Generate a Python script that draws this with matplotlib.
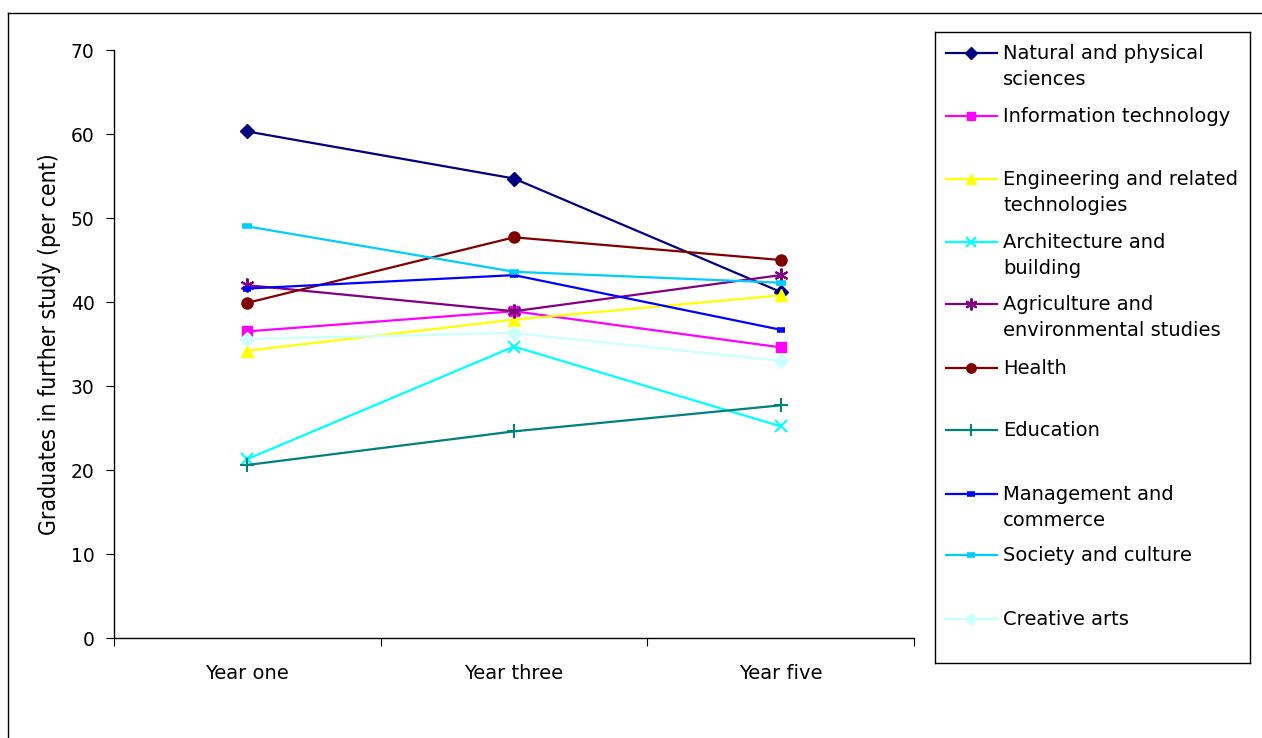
import matplotlib.pyplot as plt
from matplotlib.lines import Line2D

# Graduates in further study (per cent), by field of education
years = ["Year one", "Year three", "Year five"]
fields = [
    "Natural and physical\nsciences",
    "Information technology",
    "Engineering and related\ntechnologies",
    "Architecture and\nbuilding",
    "Agriculture and\nenvironmental studies",
    "Health",
    "Education",
    "Management and\ncommerce",
    "Society and culture",
    "Creative arts",
]
natural = [60.3, 54.7, 41.2]
info_tech = [36.5, 38.9, 34.6]
engineering = [34.2, 37.9, 40.8]
architecture = [21.3, 34.7, 25.2]
agriculture = [42.0, 38.9, 43.2]
health = [39.9, 47.7, 45.0]
education = [20.6, 24.6, 27.7]
management = [41.6, 43.2, 36.7]
society = [49.0, 43.6, 42.3]
creative = [35.6, 36.3, 33.0]

series = [natural, info_tech, engineering, architecture, agriculture,
          health, education, management, society, creative]
colors = ["#000080", "#FF00FF", "#FFFF00", "#00FFFF", "#800080",
          "#800000", "#008080", "#0000FF", "#00CCFF", "#CCFFFF"]
markers = ["D", "s", "^", "x", (6, 2, 0), "o", "+", "_", "_", "D"]
msizes = [7, 7, 9, 9, 10, 8, 10, 6, 7, 7]
mews = [1, 1, 1, 1.5, 1.5, 1, 1.5, 4, 4, 1]
# legend rows (pixel y of the first text line) in the original
legend_rows = [53, 116, 179, 242, 304, 368, 430, 494, 555, 619]

W, H = 1262, 738
fig = plt.figure(figsize=(W / 100, H / 100), dpi=100)
ax = fig.add_axes([114 / W, 1 - 638 / H, 800 / W, 588 / H])

x = list(range(len(years)))
for vals, c, m, ms, mw in zip(series, colors, markers, msizes, mews):
    ax.plot(x, vals, color=c, marker=m, markersize=ms, linewidth=1.6,
            markeredgewidth=mw, markeredgecolor=c, clip_on=False)

ax.set_xlim(-0.5, 2.5)
ax.set_ylim(0, 70)
ax.set_yticks(range(0, 71, 10))
ax.set_xticks([-0.5, 0.5, 1.5, 2.5])
ax.set_xticklabels([])
ax.set_xticks(x, minor=True)
ax.set_xticklabels(years, minor=True, fontsize=14)
ax.tick_params(axis="x", which="minor", length=0, pad=19)
ax.tick_params(axis="x", which="major", length=6, direction="out")
ax.tick_params(axis="y", length=6, direction="out", labelsize=13.5, pad=8)
for s in ["top", "right"]:
    ax.spines[s].set_visible(False)
for s in ["left", "bottom"]:
    ax.spines[s].set_linewidth(1)
ax.set_ylabel("Graduates in further study (per cent)", fontsize=16.5,
              family="DejaVu Sans", fontstretch="condensed", labelpad=7)

# legend box drawn by hand to keep the original layout
lax = fig.add_axes([935 / W, 1 - 663 / H, 315 / W, 631 / H])
lax.set_xlim(935, 1250)
lax.set_ylim(663, 32)
lax.set_xticks([])
lax.set_yticks([])
for s in lax.spines.values():
    s.set_linewidth(1)
for lab, c, m, ms, mw, yy in zip(fields, colors, markers, msizes, mews, legend_rows):
    lax.plot([946, 997], [yy, yy], color=c, linewidth=1.6)
    lax.plot([971], [yy], color=c, marker=m, markersize=ms * 0.85,
             markeredgewidth=mw, markeredgecolor=c)
    lax.text(1003, yy - 9, lab, fontsize=14, va="top", ha="left",
             linespacing=1.5)

# outer frame (top and left edges visible)
fig.add_artist(Line2D([8 / W, 1], [1 - 13 / H, 1 - 13 / H], color="black", linewidth=1))
fig.add_artist(Line2D([8 / W, 8 / W], [0, 1 - 13 / H], color="black", linewidth=1))

fig.savefig("out.png", dpi=100)
